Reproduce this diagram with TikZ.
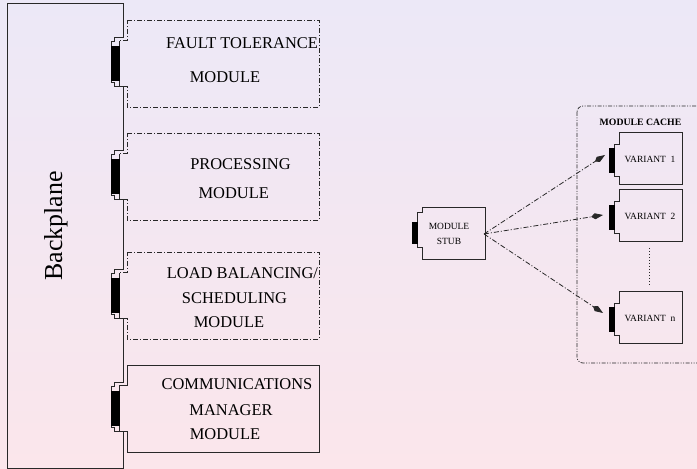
\documentclass[tikz,border=0pt]{standalone}
\usepackage{fontspec}
\setmainfont{Liberation Serif}
\usetikzlibrary{arrows.meta}
\definecolor{bgtop}{RGB}{236,232,247}
\definecolor{bgbot}{RGB}{251,230,235}
\definecolor{ink}{RGB}{40,40,40}
\tikzset{
  ln/.style={line width=0.8bp, draw=ink},
  dd/.style={ln, dash pattern=on 5bp off 2bp on 1bp off 2bp},
  cachedash/.style={ln, line width=0.7bp, dash pattern=on 4bp off 1.5bp on 1bp off 1.5bp on 1bp off 1.5bp},
  bar/.style={rectangle, fill=black, draw=black, line width=0.5bp, inner sep=0pt},
  modtxt/.style={inner sep=0pt, font=\fontsize{16.5}{18}\selectfont, text height=11bp, text depth=0bp},
  smalltxt/.style={inner sep=0pt, font=\fontsize{9.5}{11}\selectfont, text height=6.3bp, text depth=0bp},
  linkarrow/.style={ln, dash pattern=on 5bp off 2bp on 1bp off 2bp, -{Kite[length=12bp,width=6bp,inset=4bp]}},
}
\begin{document}
\begin{tikzpicture}[x=1bp,y=-1bp]
\useasboundingbox (0,0) rectangle (697,469);
\clip (0,0) rectangle (697,469);
\fill[top color=bgtop, bottom color=bgbot] (0,0) rectangle (697,469);

% backplane outline with one slot per module
\draw[ln] (7,468) -- (7,3) -- (123,3)
  \foreach \t in {20,133,252,365} {
    -- (123,\t+17) -- (114,\t+17) -- (114,\t+21) -- (111,\t+21)
    -- (111,\t+62) -- (114,\t+62) -- (114,\t+66) -- (123,\t+66)
  } -- (123,468) -- cycle;
\node[rotate=90, inner sep=0pt, font=\fontsize{26}{28}\selectfont] (bplabel) at (56,226) {Backplane};

% plug-in modules (dash-dotted = optional, solid = resident)
\foreach \t in {20,133,252}
  \draw[dd] (127,\t) -- (319,\t) -- (319,\t+87) -- (127,\t+87) -- (127,\t+66)
    -- (119,\t+66) -- (119,\t+20) -- (127,\t+20) -- cycle;
\draw[ln] (127,365) -- (319,365) -- (319,452) -- (127,452) -- (127,431)
    -- (119,431) -- (119,385) -- (127,385) -- cycle;

% slot contacts
\foreach \t/\n in {20/ft,133/pr,252/lb,365/cm}
  \node[bar, minimum width=8bp, minimum height=34bp] (\n bar) at (115,\t+43) {};

\node[modtxt] (ft1) at (242,43.5) {FAULT TOLERANCE};
\node[modtxt] (ft2) at (225,77) {MODULE};
\node[modtxt] (pr1) at (240.5,164) {PROCESSING};
\node[modtxt] (pr2) at (233.7,193) {MODULE};
\node[modtxt] (lb1) at (242.5,273) {LOAD BALANCING/};
\node[modtxt] (lb2) at (234.5,298) {SCHEDULING};
\node[modtxt] (lb3) at (229,322) {MODULE};
\node[modtxt] (cm1) at (237,384) {COMMUNICATIONS};
\node[modtxt] (cm2) at (231,410) {MANAGER};
\node[modtxt] (cm3) at (225,434) {MODULE};

% module stub
\draw[ln] (422,207) -- (485,207) -- (485,259) -- (422,259) -- (422,247)
  -- (417,247) -- (417,212) -- (422,212) -- cycle;
\node[bar, minimum width=5bp, minimum height=21bp] (stubbar) at (414.5,232.5) {};
\node[smalltxt] (stub1) at (449,226) {MODULE};
\node[smalltxt] (stub2) at (449,241) {STUB};
\coordinate (stubout) at (484,234);

% module cache
\draw[cachedash, rounded corners=6bp] (577,106) rectangle (712,363);
\node[inner sep=0pt, font=\bfseries\fontsize{9.8}{11}\selectfont] (cache) at (640.5,122) {MODULE CACHE};

\foreach \t/\n/\lab in {132/v1/1,189/v2/2,291/vn/n} {
  \draw[ln] (619,\t) -- (682,\t) -- (682,\t+52) -- (619,\t+52) -- (619,\t+44)
    -- (614,\t+44) -- (614,\t+12) -- (619,\t+12) -- cycle;
  \node[bar, minimum width=5bp, minimum height=24bp] (\n bar) at (611.5,\t+28.5) {};
  \node[smalltxt] (\n) at (650,\t+27) {VARIANT\ \ \lab};
}
\draw[ln, line width=0.6bp, dash pattern=on 1bp off 2bp] (649,248) -- (649,285);

\coordinate (v1in) at (605,155);
\coordinate (v2in) at (603,215);
\coordinate (vnin) at (603,313);
\draw[linkarrow] (stubout) -- (v1in);
\draw[linkarrow] (stubout) -- (v2in);
\draw[linkarrow] (stubout) -- (vnin);
\end{tikzpicture}
\end{document}
